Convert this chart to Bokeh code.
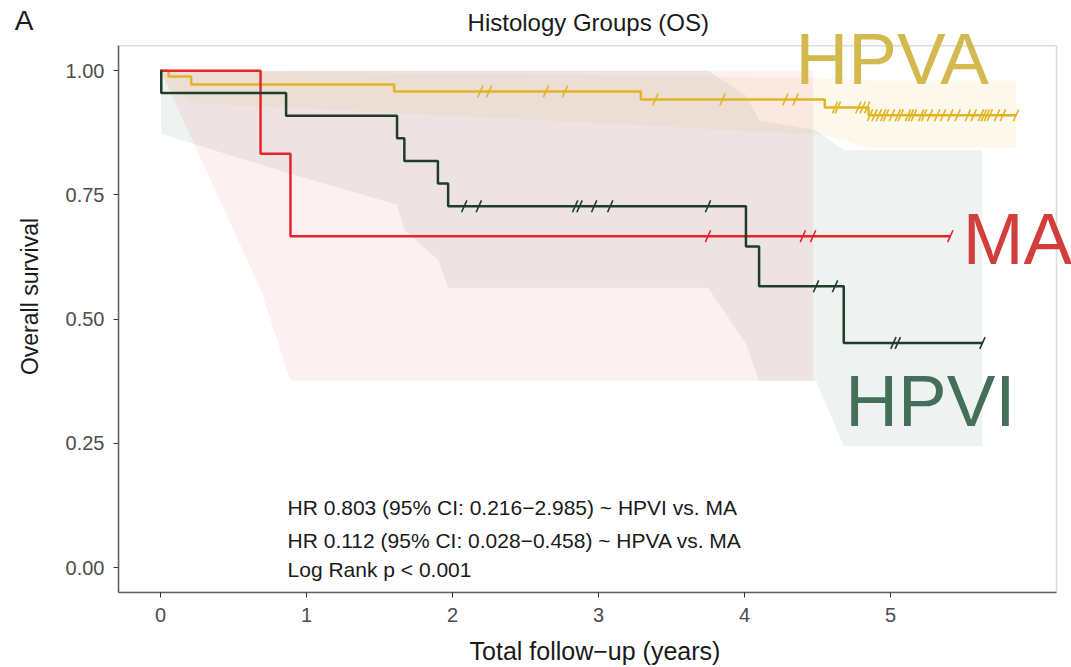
import numpy as np
from bokeh.plotting import figure
from bokeh.models import Label, FixedTicker, Range1d, LinearAxis, BoxAnnotation
from bokeh.embed import file_html
from bokeh.resources import INLINE

FONT = "Liberation Sans"

# ---- Kaplan-Meier estimates (years, survival probability) ----
hpva_event_time = [0.055, 0.21, 1.60, 3.29, 4.55, 4.85]
hpva_surv = [0.988, 0.972, 0.958, 0.942, 0.926, 0.910]
hpva_end = 5.86
hpva_censor = [2.19, 2.25, 2.64, 2.77, 3.39, 3.85, 4.28, 4.35, 4.62, 4.64,
               4.78, 4.81, 4.84, 4.86, 4.89, 4.92, 4.95, 4.97, 5.01, 5.05,
               5.07, 5.12, 5.14, 5.16, 5.21, 5.23, 5.27, 5.32, 5.36, 5.41,
               5.46, 5.53, 5.57, 5.62, 5.64, 5.66, 5.68, 5.73, 5.77, 5.86]

hpvi_event_time = [0.005, 0.86, 1.62, 1.67, 1.90, 1.97, 4.01, 4.10, 4.68]
hpvi_surv = [0.955, 0.909, 0.864, 0.818, 0.773, 0.727, 0.646, 0.566, 0.452]
hpvi_end = 5.63
hpvi_censor = [2.08, 2.18, 2.84, 2.87, 2.97, 3.08, 3.75, 4.49, 4.62,
               5.02, 5.05, 5.63]

ma_event_time = [0.685, 0.89]
ma_surv = [0.833, 0.667]
ma_end = 5.41
ma_censor = [3.75, 4.40, 4.47, 5.41]

# ---- 95% confidence bands ----
hpva_ci_time = [0, 0.055, 0.21, 1.60, 3.29, 4.55, 4.85, 5.86]
hpva_ci_low = [1.0, 0.965, 0.935, 0.915, 0.89, 0.87, 0.845, 0.845]
hpva_ci_up = [1.0, 1.0, 1.0, 0.995, 0.99, 0.985, 0.98, 0.98]

hpvi_ci_time = [0, 0.005, 0.86, 1.62, 1.67, 1.90, 1.97, 3.75, 4.01, 4.10,
                4.49, 4.68, 5.63]
hpvi_ci_low = [1.0, 0.873, 0.795, 0.73, 0.68, 0.62, 0.563, 0.563, 0.45,
               0.376, 0.376, 0.245, 0.245]
hpvi_ci_up = [1.0, 1.0, 1.0, 1.0, 1.0, 1.0, 1.0, 1.0, 0.95, 0.90, 0.88,
              0.84, 0.84]

ma_ci_time = [0, 0.685, 0.89, 3.75, 4.40, 4.47]
ma_ci_low = [1.0, 0.56, 0.376, 0.376, 0.376, 0.376]
ma_ci_up = [1.0, 1.0, 1.0, 1.0, 1.0, 1.0]

x_ticks = [0, 1, 2, 3, 4, 5]
y_ticks = [0.0, 0.25, 0.5, 0.75, 1.0]
y_tick_labels = ["0.00", "0.25", "0.50", "0.75", "1.00"]

stats_lines = [
    "HR 0.803 (95% CI: 0.216\u22122.985) ~ HPVI vs. MA",
    "HR 0.112 (95% CI: 0.028\u22120.458) ~ HPVA vs. MA",
    "Log Rank p < 0.001",
]

COL_HPVA, COL_HPVI, COL_MA = "#E2B424", "#1F3D2A", "#E6252B"
LAB_HPVA, LAB_HPVI, LAB_MA = "#D4B94E", "#44705A", "#D23E3B"

# panel limits (the drawing area extends a little further up and right
# so the title and the large group labels have room)
PANEL_X = (-0.288, 6.137)
PANEL_Y = (-0.05, 1.05)
LETTER_Y = 1.1006


def step_xy(times, surv, end):
    xs = [0.0] + list(times) + [end]
    ys = [1.0] + list(surv) + [surv[-1]]
    return xs, ys


def surv_at(times, surv, t):
    i = int(np.searchsorted(times, t, side="right"))
    return 1.0 if i == 0 else surv[i - 1]


p = figure(width=1071, height=667,
           x_range=Range1d(PANEL_X[0], 6.24),
           y_range=Range1d(PANEL_Y[0], 1.1411),
           output_backend="svg", toolbar_location=None,
           min_border_left=118, min_border_right=0,
           min_border_top=0, min_border_bottom=75)
p.xgrid.visible = False
p.ygrid.visible = False
p.outline_line_color = None
p.background_fill_color = "white"

# panel border
p.add_layout(BoxAnnotation(left=PANEL_X[0], right=PANEL_X[1],
                           bottom=PANEL_Y[0], top=PANEL_Y[1],
                           fill_color=None, line_color="#8c8c8c",
                           line_width=1.5))

# confidence bands
p.varea(x=hpva_ci_time, y1=hpva_ci_low, y2=hpva_ci_up,
        fill_color=COL_HPVA, fill_alpha=0.09)
p.varea(x=hpvi_ci_time, y1=hpvi_ci_low, y2=hpvi_ci_up,
        fill_color="#A9BDBA", fill_alpha=0.2)
p.varea(x=ma_ci_time, y1=ma_ci_low, y2=ma_ci_up,
        fill_color=COL_MA, fill_alpha=0.065)

# survival curves and censor marks
curves = [
    (hpva_event_time, hpva_surv, hpva_end, hpva_censor, COL_HPVA),
    (ma_event_time, ma_surv, ma_end, ma_censor, COL_MA),
    (hpvi_event_time, hpvi_surv, hpvi_end, hpvi_censor, COL_HPVI),
]
for times, surv, end, cens, col in curves:
    xs, ys = step_xy(times, surv, end)
    p.step(xs, ys, mode="after", line_color=col, line_width=2.5)
    cy = [surv_at(times, surv, t) for t in cens]
    p.scatter(cens, cy, marker="dash", size=13, angle=1.15,
              line_color=col, line_width=1.6)

# axes
for ax in (p.xaxis[0], p.yaxis[0]):
    ax.major_tick_out = 5
    ax.major_tick_in = 0
    ax.minor_tick_line_color = None
    ax.major_tick_line_color = "#333333"
    ax.axis_line_color = "#5a5a5a"
    ax.axis_line_width = 1.5
    ax.major_label_text_font = FONT
    ax.major_label_text_font_size = "20px"
    ax.major_label_text_color = "#4d4d4d"
    ax.axis_label_text_font = FONT
    ax.axis_label_text_font_style = "normal"
    ax.axis_label_text_color = "#1a1a1a"

p.xaxis.ticker = FixedTicker(ticks=x_ticks)
p.yaxis.ticker = FixedTicker(ticks=y_ticks)
p.xaxis.bounds = PANEL_X
p.yaxis.bounds = PANEL_Y
p.yaxis.major_label_overrides = {t: s for t, s in zip(y_ticks, y_tick_labels)}
p.xaxis.axis_label = "Total follow\u2212up (years)"
p.yaxis.axis_label = "Overall survival"
p.xaxis.axis_label_text_font_size = "25px"
p.yaxis.axis_label_text_font_size = "23px"
p.xaxis.major_label_standoff = 10
p.yaxis.major_label_standoff = 9
p.xaxis.axis_label_standoff = 12
p.yaxis.axis_label_standoff = 20

# panel letter, set in the left margin
letter_axis = LinearAxis(ticker=FixedTicker(ticks=[LETTER_Y]),
                         major_label_overrides={LETTER_Y: "A"},
                         axis_line_color=None, major_tick_line_color=None,
                         minor_tick_line_color=None,
                         major_tick_out=0, major_tick_in=0,
                         major_label_standoff=-20,
                         major_label_text_font=FONT,
                         major_label_text_font_size="28px",
                         major_label_text_color="#1a1a1a")
p.add_layout(letter_axis, "left")

# title
p.add_layout(Label(x=2.93, y=1.0966, text="Histology Groups (OS)",
                   text_font=FONT, text_font_size="24px",
                   text_color="#1a1a1a", text_align="center",
                   text_baseline="middle"))

# statistics block
for txt, yy in zip(stats_lines, [0.122, 0.054, -0.004]):
    p.add_layout(Label(x=0.87, y=yy, text=txt, text_font=FONT,
                       text_font_size="21px", text_color="#1a1a1a",
                       text_baseline="middle"))

# group labels
for txt, xx, yy, col in [("HPVA", 4.35, 1.024, LAB_HPVA),
                         ("MA", 5.495, 0.662, LAB_MA),
                         ("HPVI", 4.69, 0.336, LAB_HPVI)]:
    p.add_layout(Label(x=xx, y=yy, text=txt, text_font=FONT,
                       text_font_size="73px", text_color=col,
                       text_baseline="alphabetic"))

open("out.html", "w").write(file_html(p, INLINE))
